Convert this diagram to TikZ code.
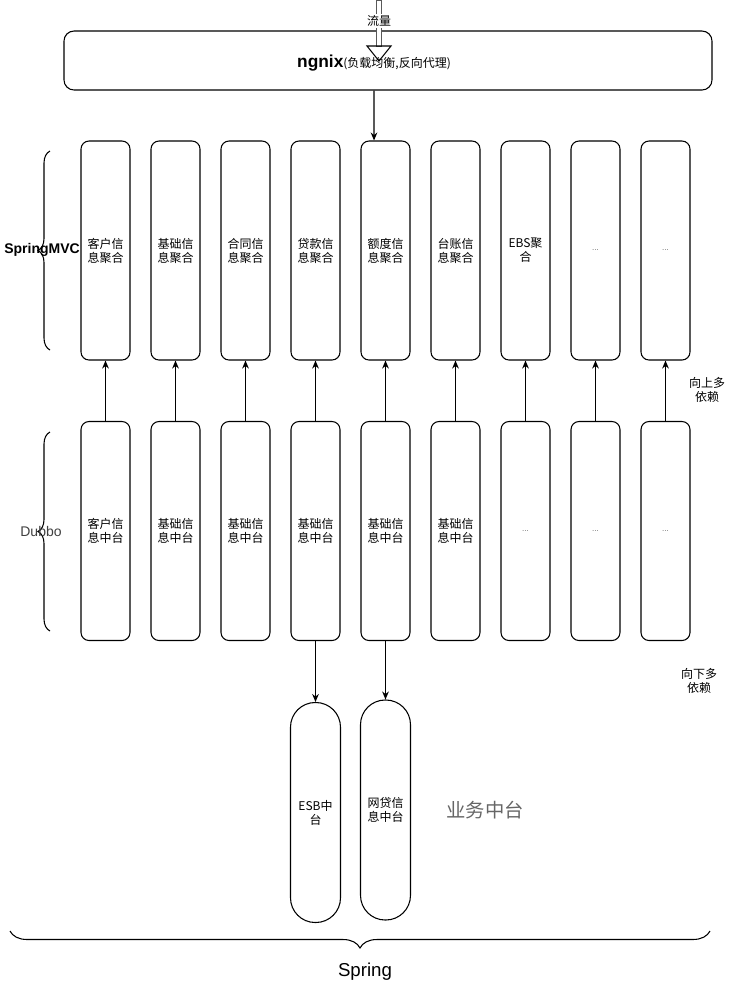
\documentclass[tikz,border=0pt]{standalone}
\usepackage{fontspec}
\setmainfont{Liberation Sans}
\newfontfamily\cjk{Noto Sans CJK SC}
\usetikzlibrary{arrows.meta,decorations.pathreplacing}
\tikzset{
  u/.style={x=0.75pt,y=-0.75pt},
  col/.style={draw,line width=0.8pt,rounded corners=6pt,minimum width=36.75pt,minimum height=164.25pt,inner sep=0pt,align=center,font=\cjk\fontsize{9}{10.5}\selectfont},
  pill/.style={draw,line width=0.8pt,rounded corners=18.5pt,minimum width=37.5pt,minimum height=165pt,inner sep=0pt,align=center,font=\cjk\fontsize{9}{10.5}\selectfont},
  arr/.style={line width=0.8pt,-{Stealth[length=6pt,width=5pt]}},
  brc/.style={line width=0.8pt,decorate,decoration={brace,amplitude=9pt}},
  note/.style={align=center,font=\cjk\fontsize{9}{10.5}\selectfont},
  dots/.style={font=\fontsize{6}{7}\selectfont,text=black!60}
}
\begin{document}
\begin{tikzpicture}[u]
\useasboundingbox (0,0) rectangle (731,983);
\fill[white] (0,0) rectangle (731,983);

% ngnix box
\node[draw,line width=0.8pt,rounded corners=7.5pt,minimum width=486pt,minimum height=44.25pt,inner sep=0pt] (ngnix) at (388,60.5)
  {\raisebox{-5.5pt}[0pt][0pt]{{\bfseries\fontsize{13}{15}\selectfont ngnix}{\cjk\fontsize{9}{11}\selectfont (负载均衡,反向代理)}}\hspace*{21pt}};

% flow arrow (hollow)
\coordinate (flowtop) at (379,0);
\coordinate (flowbase) at (379,46);
\coordinate (flowtip) at (379,61);
\draw[line width=0.7pt,draw=black!65,fill=white] ([xshift=-1.9pt]flowtop) rectangle ([xshift=1.9pt]flowbase);
\draw[line width=0.8pt] ([xshift=-9pt]flowbase) -- ([xshift=9pt]flowbase) -- (flowtip) -- cycle;
\node[fill=white,inner sep=1pt,font=\cjk\fontsize{9}{10}\selectfont] (flowlbl) at (379,21) {流量};

% top row
\node[col] (m1) at (105.5,250.5) {客户信\\息聚合};
\node[col] (m2) at (175.5,250.5) {基础信\\息聚合};
\node[col] (m3) at (245.5,250.5) {合同信\\息聚合};
\node[col] (m4) at (315.5,250.5) {贷款信\\息聚合};
\node[col] (m5) at (385.5,250.5) {额度信\\息聚合};
\node[col] (m6) at (455.5,250.5) {台账信\\息聚合};
\node[col] (m7) at (525.5,250.5) {EBS聚\\合};
\node[col] (m8) at (595.5,250.5) {};
\node[col] (m9) at (665.5,250.5) {};
\node[dots] (m8d) at (m8) {...};
\node[dots] (m9d) at (m9) {...};

% bottom row
\node[col] (d1) at (105.5,531) {客户信\\息中台};
\node[col] (d2) at (175.5,531) {基础信\\息中台};
\node[col] (d3) at (245.5,531) {基础信\\息中台};
\node[col] (d4) at (315.5,531) {基础信\\息中台};
\node[col] (d5) at (385.5,531) {基础信\\息中台};
\node[col] (d6) at (455.5,531) {基础信\\息中台};
\node[col] (d7) at (525.5,531) {};
\node[col] (d8) at (595.5,531) {};
\node[col] (d9) at (665.5,531) {};
\node[dots] (d7d) at (d7) {...};
\node[dots] (d8d) at (d8) {...};
\node[dots] (d9d) at (d9) {...};

% capsules
\node[pill] (esb) at (315.5,812.5) {ESB中\\台};
\node[pill] (wd) at (385.5,810) {网贷信\\息中台};

% arrows
\draw[arr] ([xshift=-10.5pt]ngnix.south) -- ([xshift=-8.6pt]m5.north);
\foreach \i in {1,...,9} {\draw[arr] (d\i.north) -- (m\i.south);}
\draw[arr] (d4.south) -- (esb.north);
\draw[arr] (d5.south) -- (wd.north);

% braces
\coordinate (b1a) at (50,350);
\coordinate (b1b) at (50,151);
\draw[brc] (b1a) -- (b1b);
\coordinate (b2a) at (50,631);
\coordinate (b2b) at (50,432);
\draw[brc] (b2a) -- (b2b);
\coordinate (b3a) at (710,931);
\coordinate (b3b) at (10,931);
\draw[brc,decoration={brace,amplitude=12.75pt}] (b3a) -- (b3b);

% labels
\node[font=\bfseries\fontsize{10.5}{12}\selectfont,inner sep=0pt] (smvc) at (42,250) {SpringMVC};
\node[font=\fontsize{10.5}{12}\selectfont,text=black!75,inner sep=0pt] (dubbo) at (41,531) {Dubbo};
\node[note] (up) at (707,390) {向上多\\依赖};
\node[note] (down) at (699,681) {向下多\\依赖};
\node[font=\cjk\fontsize{14.5}{16}\selectfont,text=black!60] (yw) at (485,810) {业务中台};
\node[font=\fontsize{14}{16}\selectfont] (spring) at (365,972) {Spring};
\end{tikzpicture}
\end{document}
